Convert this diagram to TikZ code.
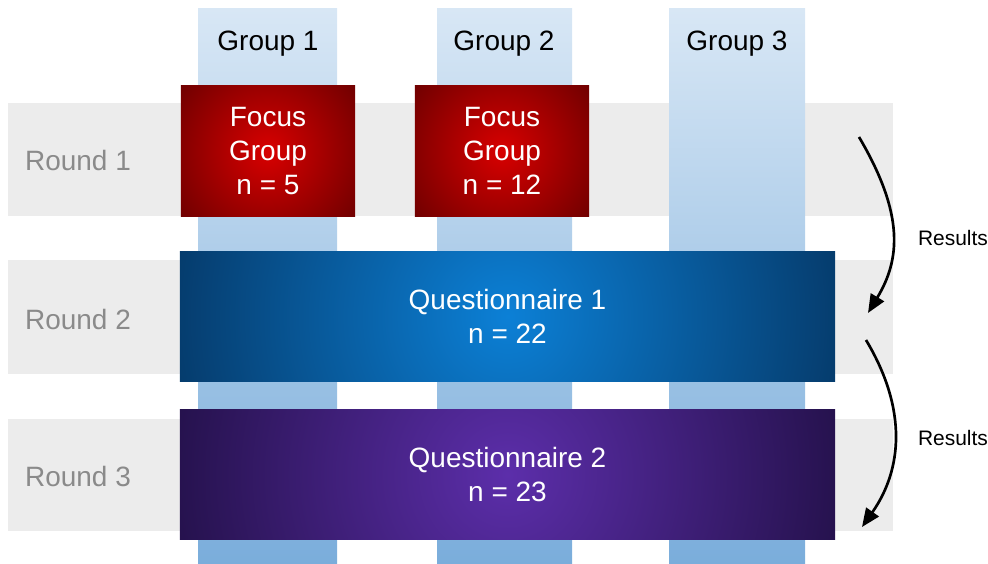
\documentclass[tikz,border=0pt]{standalone}
\usepackage{fontspec}
\setmainfont{Liberation Sans}
\usetikzlibrary{arrows.meta}
\definecolor{bandgray}{HTML}{ECECEC}
\definecolor{coltop}{HTML}{D8E7F5}
\definecolor{colbot}{HTML}{7AADDB}
\definecolor{focusin}{HTML}{D80000}
\definecolor{focusout}{HTML}{6A0000}
\definecolor{qonein}{HTML}{0C80D6}
\definecolor{qoneout}{HTML}{053A6A}
\definecolor{qtwoin}{HTML}{5C2EAA}
\definecolor{qtwoout}{HTML}{24114B}
\definecolor{roundgray}{HTML}{8A8A8A}
\tikzstyle{band}=[fill=bandgray]
\tikzstyle{column}=[top color=coltop,bottom color=colbot]
\tikzstyle{bigtext}=[font=\fontsize{19.9}{24}\selectfont]
\tikzset{glow/.style n args={3}{fill=#2,path picture={\shade[inner color=#1,outer color=#2] (path picture bounding box.center) circle (#3);}}}
\tikzstyle{focus}=[bigtext,text=white,align=center,glow={focusin}{focusout}{2.9cm},minimum width=4.35cm,minimum height=3.25cm,inner sep=0pt]
\tikzstyle{quest}=[bigtext,text=white,align=center,minimum width=16.375cm,minimum height=3.225cm,inner sep=0pt]
\tikzstyle{results}=[-{Triangle[length=4.6mm,width=3.8mm]},line width=1.9pt]

\begin{document}
\begin{tikzpicture}[x=0.025cm,y=-0.025cm]
\useasboundingbox (0,0) rectangle (988,564);
\fill[band] (8,103) rectangle (893,216);
\fill[band] (8,260) rectangle (893,374);
\fill[band] (8,419) rectangle (893,531);
\fill[column] (198,9) rectangle (337,564);
\fill[column] (437,9) rectangle (572,564);
\fill[column] (669,9) rectangle (805,564);
\node[bigtext] at (268, 44) (g1) {Group 1};
\node[bigtext] at (504, 44) (g2) {Group 2};
\node[bigtext] at (737, 44) (g3) {Group 3};
\node[bigtext, text=roundgray] at (78, 160) (r1) {Round 1};
\node[bigtext, text=roundgray] at (78, 319) (r2) {Round 2};
\node[bigtext, text=roundgray] at (78, 476) (r3) {Round 3};
\node[focus] at (268, 151) (f1) {Focus\\Group\\n = 5};
\node[focus] at (502, 151) (f2) {Focus\\Group\\n = 12};
\node[quest, glow={qonein}{qoneout}{8.6cm}] at (507.5, 316.5) (q1) {Questionnaire 1\\n = 22};
\node[quest, glow={qtwoin}{qtwoout}{8.6cm}] at (507.5, 474.5) (q2) {Questionnaire 2\\n = 23};
\node[font=\fontsize{14.9}{18}\selectfont] at (953, 238) (res1) {Results};
\node[font=\fontsize{14.9}{18}\selectfont] at (953, 438) (res2) {Results};
\coordinate (a1) at (859, 137);
\coordinate (b1) at (868, 313);
\coordinate (a2) at (866, 340);
\coordinate (b2) at (862, 527);
\draw[results] (a1) .. controls (905, 215) and (900, 260) .. (b1);
\draw[results] (a2) .. controls (908, 410) and (902, 470) .. (b2);
\end{tikzpicture}
\end{document}
